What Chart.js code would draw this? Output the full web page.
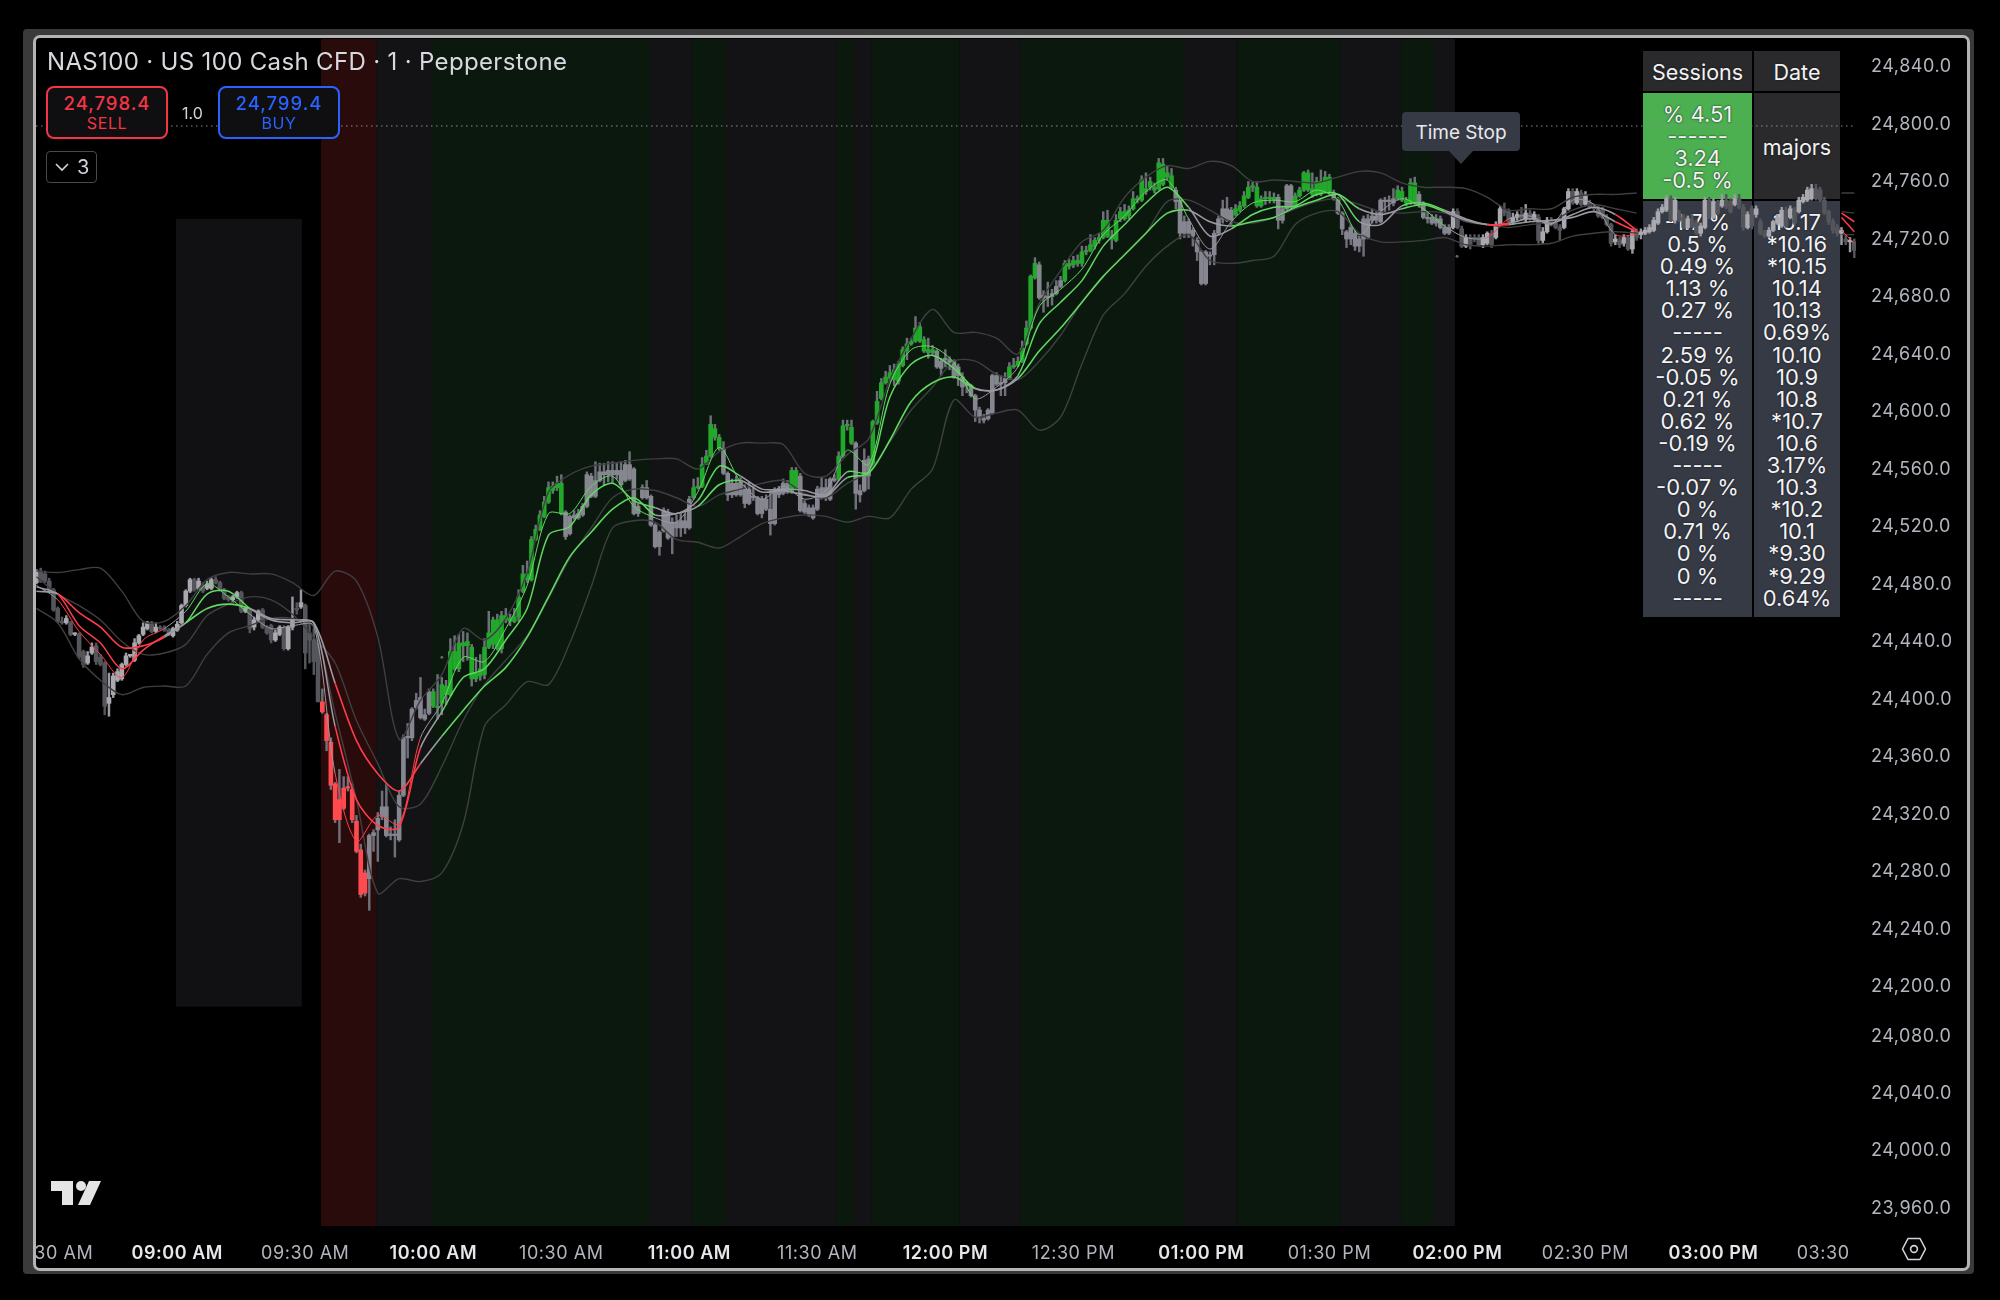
<!DOCTYPE html>
<html>
<head>
<meta charset="utf-8">
<title>NAS100</title>
<script src="https://cdn.jsdelivr.net/npm/chart.js@4/dist/chart.umd.min.js"></script>
<style>
  html, body { margin: 0; padding: 0; background: #000; width: 2000px; height: 1300px; overflow: hidden; }
  body { font-family: Inter, "Noto Sans", sans-serif; color: #d8d9de; position: relative; }
  .abs { position: absolute; }
  #frameOuter { left: 23px; top: 29px; width: 1951px; height: 1245px; background: #3a3a3a; border-radius: 4px; }
  #frameInner { left: 33px; top: 35px; width: 1931px; height: 1230px; background: #000; border: 3px solid #b4b4b4; border-radius: 7px; }
  #chartCanvas { position: absolute; left: 0; top: 0; z-index: 2; }
  .overlay { z-index: 3; }
  #title { left: 47px; top: 47px; font-size: 24px; line-height: 30px; white-space: nowrap; letter-spacing: .34px; }
  .orderBox { top: 86px; height: 49px; width: 118px; border: 2px solid; border-radius: 8px; background: #0f0f11; text-align: center; }
  .orderBox .price { font-size: 18.5px; line-height: 20px; margin-top: 5px; font-weight: 500; letter-spacing: 1px; }
  .orderBox .side { font-size: 16px; line-height: 20px; margin-top: 0; letter-spacing: .6px; }
  #sell { left: 46px; border-color: #f23645; color: #f23645; }
  #buy { left: 218px; border-color: #2962ff; color: #2962ff; }
  #qty { left: 182px; top: 104px; font-size: 16px; line-height: 18px; color: #d1d4dc; }
  #legendToggle { left: 46px; top: 151px; width: 49px; height: 30px; border: 1.5px solid #4a4a4c; border-radius: 4px; font-size: 20px; line-height: 30px; color: #d1d4dc; }
  #legendToggle svg { position: absolute; left: 8px; top: 8px; }
  #legendToggle span { position: absolute; left: 30px; top: 0; }
  .cell { z-index: 1; text-align: center; font-size: 22px; line-height: 22.1px; color: #f2f3f5; text-shadow: 0 0 2px #111; box-sizing: border-box; }
  #timeStop { left: 1402px; top: 112px; width: 118px; height: 39px; background: #363a45; border-radius: 4px; text-align: center; font-size: 19px; line-height: 41px; color: #e8e9ec; }
  #timeStopTip { left: 1449px; top: 151px; width: 0; height: 0; border-left: 12px solid transparent; border-right: 12px solid transparent; border-top: 13px solid #363a45; }
</style>
</head>
<body>
<div class="abs" id="frameOuter"></div>
<div class="abs" id="frameInner"></div>

<!-- summary table sits under the canvas, the candles run over it -->
<div class="abs cell" style="left:1643px;top:51px;width:109px;height:40px;background:#2a2a2c;line-height:42px;font-size:21.5px">Sessions</div>
<div class="abs cell" style="left:1754px;top:51px;width:86px;height:40px;background:#2a2a2c;line-height:42px;font-size:21.5px">Date</div>
<div class="abs cell" id="totalsCell" style="left:1643px;top:93px;width:109px;height:106px;background:#4caf50;padding-top:10px"></div>
<div class="abs cell" style="left:1754px;top:93px;width:86px;height:106px;background:#2a2a2c;line-height:108px;font-size:21.5px">majors</div>
<div class="abs cell" id="sessionsCell" style="left:1643px;top:201px;width:109px;height:416px;background:#363a45;padding-top:10px"></div>
<div class="abs cell" id="datesCell" style="left:1754px;top:201px;width:86px;height:416px;background:#363a45;padding-top:10px"></div>

<canvas id="chartCanvas" width="2000" height="1300"></canvas>

<div class="abs overlay" id="title">NAS100 · US 100 Cash CFD · 1 · Pepperstone</div>
<div class="abs overlay orderBox" id="sell"><div class="price">24,798.4</div><div class="side">SELL</div></div>
<div class="abs overlay" id="qty">1.0</div>
<div class="abs overlay orderBox" id="buy"><div class="price">24,799.4</div><div class="side">BUY</div></div>
<div class="abs overlay" id="legendToggle">
  <svg width="14" height="14" viewBox="0 0 14 14"><path d="M1 4 L7 10 L13 4" fill="none" stroke="#d1d4dc" stroke-width="1.6"/></svg>
  <span>3</span>
</div>
<div class="abs overlay" id="timeStop">Time Stop</div>
<div class="abs overlay" id="timeStopTip"></div>

<svg class="abs overlay" style="left:51px;top:1180px" width="50" height="26" viewBox="0 0 50 26">
  <path d="M0 1H22V25H11V11H0Z M38 1H50L39 25H27Z" fill="#e4e4e4"/>
  <circle cx="30" cy="6" r="5" fill="#e4e4e4"/>
</svg>
<svg class="abs overlay" style="left:1901px;top:1236px" width="26" height="26" viewBox="0 0 26 26">
  <path d="M7 2.5 H19 L24.5 13 L19 23.5 H7 L1.5 13 Z" fill="none" stroke="#d1d4dc" stroke-width="1.6" stroke-linejoin="round"/>
  <circle cx="13" cy="13" r="3.4" fill="none" stroke="#d1d4dc" stroke-width="1.6"/>
</svg>

<script>
// minutes since midnight, one candle per minute
const firstBarMinute = 507;

const opens = [
  24480,24488,24486,24481,24475,24462,24453,24452,24452,24444,
  24444,24432,24424,24431,24436,24428,24424,24396,24402,24412,
  24413,24423,24429,24426,24438,24444,24448,24452,24446,24449,
  24448,24447,24443,24447,24452,24464,24474,24482,24476,24478,
  24476,24476,24482,24480,24475,24470,24468,24470,24473,24460,
  24461,24449,24454,24461,24449,24450,24440,24444,24449,24434,
  24449,24462,24463,24464,24445,24440,24439,24397,24388,24369,
  24340,24329,24323,24337,24336,24314,24294,24264,24274,24304,
  24308,24317,24324,24305,24304,24301,24332,24372,24372,24393,
  24400,24388,24389,24394,24394,24396,24408,24402,24432,24420,
  24438,24436,24435,24413,24415,24416,24435,24437,24454,24434,
  24457,24455,24453,24456,24474,24486,24482,24510,24517,24526,
  24536,24544,24546,24549,24529,24514,24527,24525,24527,24533,
  24554,24540,24551,24557,24555,24558,24555,24558,24551,24562,
  24559,24528,24539,24546,24540,24520,24505,24516,24529,24512,
  24522,24518,24523,24518,24539,24546,24547,24563,24568,24587,
  24581,24573,24556,24541,24549,24541,24545,24535,24540,24539,
  24528,24538,24531,24521,24544,24542,24549,24543,24558,24554,
  24535,24532,24532,24531,24546,24539,24538,24552,24552,24568,
  24589,24588,24577,24544,24544,24566,24561,24591,24608,24619,
  24622,24621,24620,24631,24641,24646,24648,24648,24649,24642,
  24640,24641,24634,24636,24635,24634,24624,24623,24618,24617,
  24610,24600,24594,24594,24598,24624,24619,24619,24622,24630,
  24631,24634,24646,24657,24692,24701,24680,24678,24679,24681,
  24686,24690,24702,24701,24704,24702,24710,24711,24714,24718,
  24720,24732,24721,24718,24733,24738,24735,24740,24747,24746,
  24754,24755,24755,24754,24771,24765,24763,24753,24746,24723,
  24731,24725,24718,24710,24688,24708,24708,24723,24733,24740,
  24732,24736,24739,24742,24748,24755,24755,24742,24747,24747,
  24748,24748,24732,24740,24756,24741,24749,24753,24765,24754,
  24750,24759,24752,24762,24751,24747,24737,24724,24719,24723,
  24714,24719,24733,24732,24735,24731,24746,24745,24747,24747,
  24752,24746,24744,24758,24750,24743,24734,24734,24730,24733,
  24727,24723,24727,24738,24726,24714,24720,24720,24720,24715,
  24716,24723,24720,24729,24739,24738,24731,24734,24736,24733,
  24737,24733,24734,24718,24724,24732,24730,24727,24727,24740,
  24752,24744,24751,24743,24744,24741,24740,24739,24734,24729,
  24717,24718,24716,24720,24712,24724,24722,24723,24724,24725,
  24730,24738,24739,24747,24732,24737,24734,24727,24732,24730,
  24723,24727,24746,24734,24744,24742,24746,24745,24743,24747,
  24741,24727,24740,24736,24731,24723,24721,24725,24730,24728,
  24739,24734,24739,24738,24745,24746,24747,24754,24753,24746,
  24738,24731,24727,24723,24719,24717,24717
];
const closes = [
  24488,24481,24481,24475,24461,24453,24452,24455,24444,24444,
  24428,24423,24429,24435,24425,24423,24394,24400,24415,24418,
  24423,24429,24429,24438,24443,24449,24452,24446,24449,24448,
  24447,24444,24448,24451,24464,24474,24482,24475,24481,24474,
  24479,24482,24480,24475,24469,24468,24470,24473,24460,24462,
  24448,24454,24460,24449,24445,24440,24445,24449,24434,24449,
  24455,24461,24466,24431,24440,24425,24397,24390,24370,24339,
  24315,24315,24337,24337,24315,24293,24263,24278,24304,24306,
  24316,24324,24304,24304,24304,24332,24372,24372,24392,24398,
  24386,24385,24404,24404,24393,24409,24402,24432,24420,24438,
  24436,24439,24413,24417,24420,24435,24445,24454,24434,24457,
  24454,24453,24456,24470,24486,24482,24510,24517,24527,24536,
  24546,24547,24549,24528,24512,24526,24525,24528,24533,24555,
  24540,24551,24557,24555,24558,24555,24558,24548,24562,24552,
  24528,24533,24546,24539,24520,24505,24515,24530,24511,24522,
  24518,24523,24518,24538,24546,24547,24562,24568,24590,24581,
  24573,24556,24541,24549,24541,24550,24535,24545,24539,24528,
  24538,24531,24521,24544,24541,24549,24543,24558,24546,24530,
  24529,24527,24525,24545,24539,24546,24552,24551,24568,24589,
  24589,24577,24542,24541,24565,24554,24592,24606,24619,24623,
  24626,24628,24632,24642,24646,24648,24657,24658,24641,24640,
  24642,24630,24629,24635,24633,24623,24630,24616,24617,24610,
  24600,24595,24593,24600,24624,24618,24618,24622,24630,24631,
  24634,24643,24657,24693,24702,24678,24678,24679,24681,24686,
  24690,24702,24700,24704,24702,24710,24711,24715,24718,24720,
  24732,24721,24719,24732,24738,24733,24739,24747,24746,24760,
  24752,24759,24753,24772,24757,24762,24755,24745,24723,24731,
  24723,24721,24710,24688,24710,24707,24723,24733,24740,24732,
  24739,24740,24742,24749,24755,24756,24742,24747,24748,24748,
  24746,24732,24740,24756,24741,24749,24753,24765,24753,24750,
  24759,24750,24762,24751,24747,24737,24726,24719,24727,24714,
  24719,24733,24720,24735,24732,24746,24745,24746,24744,24753,
  24746,24744,24758,24744,24743,24734,24733,24730,24733,24727,
  24723,24727,24738,24727,24714,24720,24715,24719,24715,24720,
  24723,24715,24729,24740,24737,24731,24734,24736,24733,24737,
  24733,24736,24718,24724,24732,24729,24727,24725,24740,24752,
  24744,24752,24743,24749,24741,24740,24735,24734,24729,24716,
  24719,24715,24720,24712,24724,24720,24724,24725,24727,24732,
  24738,24741,24747,24732,24746,24732,24727,24733,24728,24723,
  24728,24746,24734,24745,24737,24746,24741,24738,24747,24741,
  24727,24736,24728,24740,24723,24721,24725,24731,24734,24739,
  24728,24740,24730,24746,24748,24753,24754,24747,24746,24737,
  24731,24725,24723,24725,24717,24717,24711
];
const highs = [
  24489,24490,24488,24483,24476,24463,24456,24457,24453,24445,
  24445,24433,24432,24438,24438,24430,24425,24417,24417,24420,
  24424,24431,24430,24441,24444,24452,24453,24453,24452,24450,
  24450,24448,24449,24453,24465,24475,24483,24483,24483,24480,
  24481,24483,24484,24481,24476,24471,24471,24474,24474,24463,
  24462,24456,24461,24462,24450,24451,24447,24450,24450,24450,
  24470,24466,24475,24465,24452,24448,24440,24406,24389,24372,
  24341,24350,24345,24345,24340,24318,24298,24280,24305,24308,
  24320,24335,24340,24310,24315,24335,24374,24382,24393,24403,
  24414,24392,24406,24406,24416,24414,24412,24441,24443,24444,
  24446,24445,24437,24428,24430,24441,24460,24456,24458,24460,
  24462,24458,24462,24475,24492,24495,24512,24520,24530,24540,
  24550,24550,24554,24555,24530,24527,24530,24531,24535,24557,
  24556,24564,24563,24563,24564,24564,24563,24564,24565,24571,
  24560,24535,24548,24551,24541,24521,24516,24532,24531,24525,
  24527,24528,24528,24540,24552,24553,24567,24572,24596,24590,
  24583,24578,24557,24552,24554,24553,24548,24550,24548,24540,
  24540,24541,24544,24546,24547,24552,24551,24560,24560,24556,
  24537,24534,24534,24547,24553,24552,24553,24555,24571,24593,
  24593,24593,24578,24548,24573,24568,24593,24613,24622,24627,
  24631,24632,24634,24644,24650,24650,24665,24661,24651,24650,
  24645,24642,24636,24642,24637,24635,24632,24626,24620,24618,
  24611,24602,24597,24601,24625,24626,24624,24626,24633,24636,
  24637,24648,24662,24694,24706,24703,24683,24689,24684,24690,
  24693,24704,24705,24707,24708,24714,24714,24722,24720,24723,
  24738,24739,24725,24736,24741,24743,24742,24752,24749,24763,
  24765,24762,24758,24775,24775,24770,24768,24755,24748,24735,
  24733,24727,24720,24711,24711,24710,24725,24735,24746,24748,
  24741,24743,24745,24752,24759,24759,24759,24749,24752,24752,
  24751,24750,24742,24757,24757,24751,24755,24766,24767,24765,
  24762,24767,24766,24764,24753,24748,24738,24725,24729,24725,
  24721,24735,24736,24740,24738,24747,24748,24749,24754,24756,
  24755,24748,24761,24762,24752,24745,24738,24736,24736,24735,
  24729,24729,24740,24740,24728,24722,24722,24722,24722,24722,
  24724,24725,24731,24742,24744,24740,24737,24738,24741,24743,
  24739,24738,24736,24727,24734,24734,24732,24729,24741,24754,
  24754,24754,24753,24752,24746,24743,24742,24741,24736,24730,
  24722,24720,24722,24721,24726,24726,24726,24727,24729,24734,
  24740,24743,24749,24749,24748,24739,24736,24735,24736,24732,
  24730,24748,24748,24747,24746,24750,24750,24747,24750,24750,
  24743,24738,24742,24742,24733,24725,24727,24732,24736,24741,
  24741,24742,24741,24748,24750,24755,24757,24757,24755,24748,
  24739,24733,24729,24727,24722,24720,24719
];
const lows = [
  24479,24480,24480,24473,24460,24452,24451,24451,24443,24443,
  24427,24421,24423,24430,24423,24422,24388,24387,24400,24411,
  24412,24422,24428,24425,24437,24443,24447,24445,24445,24447,
  24446,24443,24442,24446,24451,24463,24473,24474,24475,24473,
  24475,24475,24479,24474,24468,24467,24466,24469,24459,24459,
  24445,24447,24453,24448,24444,24438,24439,24443,24433,24433,
  24447,24458,24462,24420,24424,24416,24397,24389,24363,24336,
  24313,24299,24322,24335,24313,24292,24261,24262,24252,24293,
  24286,24315,24303,24301,24289,24300,24331,24358,24370,24392,
  24385,24384,24388,24393,24385,24388,24395,24401,24419,24418,
  24425,24426,24408,24411,24412,24413,24434,24434,24433,24431,
  24452,24450,24452,24453,24473,24480,24481,24509,24516,24525,
  24535,24542,24544,24527,24510,24513,24524,24524,24526,24532,
  24539,24539,24550,24548,24550,24549,24552,24547,24550,24551,
  24527,24526,24538,24538,24519,24504,24499,24515,24510,24500,
  24512,24512,24514,24517,24538,24545,24546,24562,24567,24579,
  24572,24555,24537,24539,24540,24540,24532,24534,24537,24527,
  24525,24530,24513,24520,24539,24541,24542,24542,24545,24529,
  24528,24526,24524,24530,24538,24537,24537,24550,24551,24567,
  24586,24576,24531,24536,24543,24545,24560,24590,24607,24618,
  24620,24617,24618,24630,24635,24645,24647,24647,24640,24636,
  24638,24629,24624,24630,24628,24622,24617,24610,24612,24609,
  24592,24591,24591,24593,24597,24617,24610,24610,24621,24629,
  24630,24633,24645,24656,24691,24677,24668,24672,24673,24680,
  24685,24689,24698,24699,24700,24700,24708,24710,24712,24716,
  24719,24720,24712,24717,24731,24732,24733,24739,24744,24745,
  24750,24753,24751,24753,24756,24760,24754,24740,24719,24720,
  24720,24714,24704,24687,24687,24701,24701,24722,24730,24731,
  24729,24735,24738,24741,24747,24752,24741,24741,24743,24744,
  24744,24726,24730,24738,24740,24740,24748,24752,24752,24748,
  24749,24749,24751,24750,24746,24736,24722,24713,24715,24711,
  24710,24707,24719,24730,24730,24730,24738,24739,24742,24746,
  24745,24742,24743,24743,24741,24733,24730,24729,24728,24726,
  24722,24722,24726,24726,24713,24713,24712,24717,24714,24713,
  24715,24713,24719,24728,24735,24730,24729,24732,24732,24731,
  24732,24732,24716,24716,24723,24728,24726,24718,24726,24739,
  24743,24743,24742,24742,24740,24738,24734,24733,24728,24714,
  24715,24713,24714,24711,24709,24718,24719,24722,24723,24724,
  24729,24737,24738,24731,24730,24731,24726,24726,24727,24722,
  24721,24726,24733,24733,24736,24741,24740,24737,24742,24740,
  24725,24726,24726,24734,24722,24720,24720,24724,24729,24727,
  24727,24733,24729,24737,24744,24745,24746,24746,24745,24736,
  24729,24723,24721,24715,24715,24710,24706
];

// indicator lines read every five minutes, empty where the table hides them
const lineMinutes = [
  507,512,517,522,527,532,537,542,547,552,
  557,562,567,572,577,582,587,592,597,602,
  607,612,617,622,627,632,637,642,647,652,
  657,662,667,672,677,682,687,692,697,702,
  707,712,717,722,727,732,737,742,747,752,
  757,762,767,772,777,782,787,792,797,802,
  807,812,817,822,827,832,837,842,847,852,
  857,862,867,872,877,882,887,892,897,902,
  907,912,917,922,927,930,933
];
const bbUpper = [
  24488,24487,24489,24490,24474,24453,24453,24464,24482,24487,
  24486,24486,24480,24471,24488,24481,24442,24371,24398,24416,
  24448,24440,24455,24487,24543,24555,24561,24563,24565,24566,
  24566,24559,24571,24577,24577,24576,24556,24554,24569,24580,
  24621,24650,24670,24654,24654,24650,24639,24674,24697,24717,
  24725,24748,24762,24770,24768,24773,24770,24759,24760,24759,
  24758,24762,24766,24765,24758,24755,24755,24754,24748,24739,
  24740,24740,24748,24750,24750,24751,null,null,null,null,
  null,null,null,null,null,24751,24751
];
const bbMiddle = [
  24484,24472,24464,24454,24439,24430,24431,24437,24457,24465,
  24470,24468,24458,24442,24424,24384,24354,24324,24326,24352,
  24384,24409,24426,24443,24469,24497,24518,24539,24545,24544,
  24539,24533,24541,24545,24549,24551,24542,24539,24549,24557,
  24578,24600,24616,24634,24634,24625,24621,24634,24652,24675,
  24693,24708,24723,24745,24746,24739,24731,24730,24734,24740,
  24745,24747,24743,24738,24737,24738,24737,24731,24729,24727,
  24729,24731,24739,24743,24740,24737,null,null,null,null,
  null,null,null,null,null,24738,24737
];
const bbLower = [
  24462,24452,24427,24412,24402,24407,24408,24408,24430,24445,
  24450,24455,24455,24449,24389,24329,24264,24274,24272,24278,
  24312,24380,24395,24411,24409,24438,24477,24518,24523,24522,
  24510,24508,24504,24512,24521,24525,24527,24526,24522,24526,
  24525,24545,24559,24607,24595,24598,24600,24586,24595,24632,
  24666,24681,24700,24714,24722,24704,24702,24704,24707,24729,
  24737,24738,24723,24717,24717,24718,24720,24715,24714,24715,
  24715,24716,24721,24723,24724,24723,null,null,null,null,
  null,null,null,null,null,24722,24722
];
const maSlow = [
  24474,24472,24459,24449,24435,24436,24442,24452,24462,24465,
  24462,24455,24454,24452,24410,24370,24347,24335,24354,24373,
  24391,24408,24421,24442,24470,24498,24515,24531,24539,24527,
  24528,24533,24548,24551,24543,24544,24541,24540,24553,24556,
  24579,24606,24619,24623,24615,24614,24622,24641,24657,24675,
  24693,24708,24723,24737,24739,24731,24728,24731,24734,24741,
  24746,24750,24740,24736,24740,24743,24738,24732,24729,24729,
  24731,24732,24734,24738,24731,24724,null,null,null,null,
  null,null,null,null,null,24737,24731
];
const maMid = [
  24477,24472,24450,24438,24420,24433,24443,24452,24472,24474,
  24462,24454,24452,24452,24380,24329,24311,24310,24365,24390,
  24414,24420,24440,24462,24513,24519,24541,24549,24537,24532,
  24528,24537,24561,24554,24545,24545,24544,24541,24557,24557,
  24609,24632,24638,24629,24615,24614,24624,24660,24675,24690,
  24714,24729,24744,24755,24741,24721,24726,24736,24741,24742,
  24750,24750,24731,24729,24742,24744,24739,24733,24729,24730,
  24733,24730,24736,24741,24736,24725,null,null,null,null,
  null,null,null,null,null,24734,24724
];
const maFast = [
  24478,24468,24446,24430,24414,24440,24448,24460,24479,24470,
  24458,24448,24450,24450,24347,24300,24318,24312,24372,24396,
  24428,24425,24448,24478,24528,24528,24547,24554,24533,24525,
  24522,24543,24574,24550,24538,24547,24538,24544,24572,24562,
  24618,24642,24644,24633,24608,24616,24630,24672,24684,24698,
  24722,24735,24752,24760,24733,24712,24731,24744,24746,24745,
  24753,24746,24722,24738,24747,24740,24728,24720,24720,24733,
  24735,24729,24746,24743,24722,24722,null,null,null,null,
  null,null,null,null,null,24725,24716
];

// when the candles and the lines change colour
const greenBarFrom = [600,661,684,695,703,735,748,788,802,826];
const greenBarTo   = [630,667,685,698,717,741,773,797,810,830];
const redBarFrom = 574, redBarTo = 584;
const sessionFrom = 585, sessionTo = 838;
const greenLineFrom = [541,600,661,684,693,733,787,826];
const greenLineTo   = [556,650,668,686,723,774,812,834];
const redLineFrom = [512,573,846,877];
const redLineTo   = [533,594,850,933];

// background bands, minutes
const bandFrom = [573.7,586.6,599.7,650.8,660.6,668.6,694.6,698.6,702.6,723.4,737.7,775.7,788.4,812.7,826.8,834.5];
const bandTo   = [586.6,599.7,650.8,660.6,668.6,694.6,698.6,702.6,723.4,737.7,775.7,788.4,812.7,826.8,834.5,839.4];
const bandKind = ['red','dark','green','dark','green','dark','green','dark','green','dark','green','dark','green','dark','green','dark'];
const boxMinutes = [539.7,569.2];
const boxPrices = [24185,24733];

const priceLevel = 24797.6;
const dotMinutes = [602,839.9];
const dotPrices = [24428,24707];

const xTickValues = [513.4,540,570,600,630,660,690,720,750,780,810,840,870,900,925.7];
const xTickLabels = ['30 AM','09:00 AM','09:30 AM','10:00 AM','10:30 AM','11:00 AM','11:30 AM','12:00 PM','12:30 PM','01:00 PM','01:30 PM','02:00 PM','02:30 PM','03:00 PM','03:30'];
const xTickBold = [false,true,false,true,false,true,false,true,false,true,false,true,false,true,false];
const yTickValues = [24840,24800,24760,24720,24680,24640,24600,24560,24520,24480,24440,24400,24360,24320,24280,24240,24200,24165.6,24125.6,24085.9,24045.6];
const yTickLabels = ['24,840.0','24,800.0','24,760.0','24,720.0','24,680.0','24,640.0','24,600.0','24,560.0','24,520.0','24,480.0','24,440.0','24,400.0','24,360.0','24,320.0','24,280.0','24,240.0','24,200.0','24,080.0','24,040.0','24,000.0','23,960.0'];

const totalsRows = ['% 4.51','------','3.24','-0.5 %'];
const sessionRows = ['-1.7 %','0.5 %','0.49 %','1.13 %','0.27 %','-----','2.59 %','-0.05 %','0.21 %','0.62 %','-0.19 %','-----','-0.07 %','0 %','0.71 %','0 %','0 %','-----'];
const dateRows = ['10.17','*10.16','*10.15','10.14','10.13','0.69%','10.10','10.9','10.8','*10.7','10.6','3.17%','10.3','*10.2','10.1','*9.30','*9.29','0.64%'];

document.getElementById('totalsCell').innerHTML = totalsRows.join('<br>');
document.getElementById('sessionsCell').innerHTML = sessionRows.join('<br>');
document.getElementById('datesCell').innerHTML = dateRows.join('<br>');

const inZone = (m, from, to) => from.some((f, i) => m >= f && m <= to[i]);

function bodyColor(i) {
  const m = firstBarMinute + i;
  if (m >= redBarFrom && m <= redBarTo) return '#ff4b4f';
  if (inZone(m, greenBarFrom, greenBarTo)) return '#22a82a';
  if (m >= sessionFrom && m <= sessionTo) return '#85868f';
  return closes[i] >= opens[i] ? '#a9a9af' : '#55565c';
}
function wickColor(i) {
  const m = firstBarMinute + i;
  if (m >= sessionFrom && m <= sessionTo || m >= redBarFrom && m <= redBarTo) return '#6f7079';
  return closes[i] >= opens[i] ? '#9a9aa0' : '#55565c';
}
function lineColor(ctx) {
  const m = ctx.p0.parsed.x;
  if (inZone(m, redLineFrom, redLineTo)) return '#ff3d4a';
  if (inZone(m, greenLineFrom, greenLineTo)) return '#62d862';
  return '#9a9aa2';
}

const bandColors = { red: '#2a0b0c', dark: '#131316', green: '#0b180e' };
const bandsPlugin = {
  id: 'bands',
  beforeDraw(chart) {
    chart.ctx.letterSpacing = '0.55px';
  },
  beforeDatasetsDraw(chart) {
    const { ctx, chartArea, scales } = chart;
    bandFrom.forEach((f, i) => {
      const x0 = scales.x.getPixelForValue(f);
      const x1 = scales.x.getPixelForValue(bandTo[i]);
      ctx.fillStyle = bandColors[bandKind[i]];
      ctx.fillRect(x0, chartArea.top, x1 - x0, chartArea.bottom - chartArea.top);
    });
    const bx0 = scales.x.getPixelForValue(boxMinutes[0]);
    const bx1 = scales.x.getPixelForValue(boxMinutes[1]);
    const by0 = scales.y.getPixelForValue(boxPrices[1]);
    const by1 = scales.y.getPixelForValue(boxPrices[0]);
    ctx.fillStyle = '#111113';
    ctx.fillRect(bx0, by0, bx1 - bx0, by1 - by0);
  },
};

const lineDataset = (values, color, width, order, zoned) => ({
  type: 'line',
  data: values.map((v, i) => ({ x: lineMinutes[i], y: v })),
  borderColor: color,
  borderWidth: width,
  pointRadius: 0,
  tension: 0.3,
  spanGaps: false,
  order: order,
  segment: zoned ? { borderColor: lineColor } : undefined,
});

new Chart(document.getElementById('chartCanvas'), {
  type: 'bar',
  data: {
    datasets: [
      {
        data: highs.map((h, i) => ({ x: firstBarMinute + i, y: [lows[i], h] })),
        backgroundColor: highs.map((h, i) => wickColor(i)),
        barThickness: 1.8,
        grouped: false,
        order: 6,
      },
      {
        data: opens.map((o, i) => ({ x: firstBarMinute + i, y: [o, closes[i]] })),
        backgroundColor: opens.map((o, i) => bodyColor(i)),
        barThickness: 4,
        minBarLength: 1.5,
        grouped: false,
        order: 5,
      },
      lineDataset(bbUpper, '#3f3f42', 1.4, 4, false),
      lineDataset(bbMiddle, '#3f3f42', 1.4, 4, false),
      lineDataset(bbLower, '#3f3f42', 1.4, 4, false),
      lineDataset(maFast, '#9a9aa2', 1, 3, true),
      lineDataset(maMid, '#9a9aa2', 1.5, 2, true),
      lineDataset(maSlow, '#9a9aa2', 1.6, 1, true),
      {
        type: 'line',
        data: [{ x: 506.9, y: priceLevel }, { x: 933.4, y: priceLevel }],
        borderColor: '#8d8d90',
        borderWidth: 1,
        borderDash: [1.5, 3.5],
        pointRadius: 0,
        order: 0,
      },
      {
        type: 'scatter',
        data: dotMinutes.map((m, i) => ({ x: m, y: dotPrices[i] })),
        backgroundColor: '#6a6a6e',
        pointRadius: 1.5,
        order: 0,
      },
    ],
  },
  options: {
    responsive: false,
    animation: false,
    devicePixelRatio: 1,
    layout: { padding: { left: 36, top: 39, right: 0, bottom: 0 } },
    plugins: { legend: { display: false }, tooltip: { enabled: false } },
    scales: {
      x: {
        type: 'linear',
        offset: false,
        min: 506.9,
        max: 933.4,
        grid: { display: false, offset: false },
        border: { display: false },
        afterBuildTicks: (scale) => { scale.ticks = xTickValues.map((v) => ({ value: v })); },
        afterFit: (scale) => { scale.height = 74; },
        ticks: {
          autoSkip: false,
          maxRotation: 0,
          padding: 9,
          color: (ctx) => (xTickBold[ctx.index] ? '#e6e7ea' : '#b2b5be'),
          font: (ctx) => ({ family: 'Inter', size: 18, weight: xTickBold[ctx.index] ? '600' : '400' }),
          callback: (value, index) => xTickLabels[index],
        },
      },
      y: {
        type: 'linear',
        position: 'right',
        min: 24032.4,
        max: 24858.1,
        grid: { display: false },
        border: { display: false },
        afterBuildTicks: (scale) => { scale.ticks = yTickValues.map((v) => ({ value: v })); },
        afterFit: (scale) => { scale.width = 144; },
        ticks: {
          autoSkip: false,
          padding: 7,
          labelOffset: 2,
          color: '#b2b5be',
          font: { family: 'Inter', size: 18 },
          callback: (value, index) => yTickLabels[index],
        },
      },
    },
  },
  plugins: [bandsPlugin],
});
</script>
</body>
</html>
